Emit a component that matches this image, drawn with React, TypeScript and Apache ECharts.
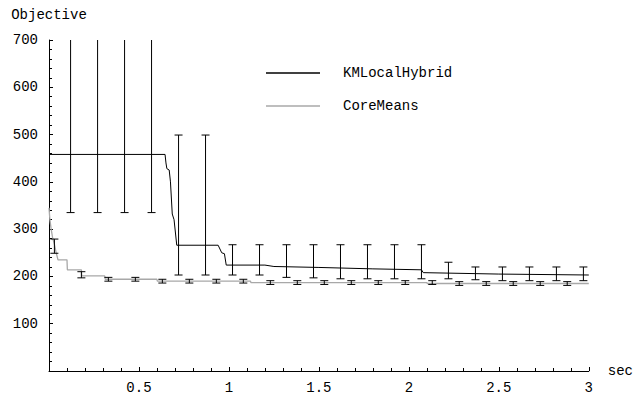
import React, { useEffect, useRef } from "react";
import * as echarts from "echarts";

// KMLocalHybrid objective over time [sec, objective]
const kmLine: number[][] = [
  [0, 458], [0.645, 458], [0.65, 440], [0.655, 428], [0.668, 425], [0.675, 400],
  [0.685, 332], [0.695, 320], [0.71, 266], [0.94, 266], [0.95, 258], [0.96, 250],
  [0.975, 248], [0.985, 224], [1.2, 224], [1.25, 221], [1.5, 219], [1.8, 216],
  [2.07, 214], [2.08, 208], [2.5, 205], [3, 203],
];
// CoreMeans objective over time [sec, objective]
const cmLine: number[][] = [
  [0, 345], [0.005, 320], [0.012, 300], [0.02, 282], [0.03, 268], [0.04, 250],
  [0.05, 235], [0.1, 235], [0.102, 214], [0.18, 214], [0.182, 201], [0.31, 201],
  [0.312, 194], [0.6, 194], [0.602, 190], [1.12, 190], [1.122, 187], [2.1, 187],
  [2.102, 185], [3, 185],
];

// error bars
const kmBarX = [0.12, 0.27, 0.42, 0.57, 0.72, 0.87, 1.02, 1.17, 1.32, 1.47, 1.62, 1.77, 1.92, 2.07, 2.22, 2.37, 2.52, 2.67, 2.82, 2.97];
const kmBarLow = [335, 335, 335, 335, 203, 203, 203, 203, 198, 197, 195, 195, 195, 195, 195, 193, 191, 191, 191, 191];
const kmBarHigh = [760, 760, 760, 760, 499, 499, 267, 267, 267, 267, 267, 267, 267, 267, 230, 220, 220, 220, 220, 220];

const cmBarX = [0.03, 0.18, 0.33, 0.48, 0.63, 0.78, 0.93, 1.08, 1.23, 1.38, 1.53, 1.68, 1.83, 1.98, 2.13, 2.28, 2.43, 2.58, 2.73, 2.88];
const cmBarLow = [249, 197, 190, 190, 186, 186, 186, 186, 183, 183, 183, 183, 183, 183, 183, 181, 181, 181, 181, 181];
const cmBarHigh = [279, 210, 198, 198, 194, 194, 194, 194, 191, 191, 191, 191, 191, 191, 191, 189, 189, 189, 189, 189];

const FONT = "Liberation Mono";

function errorRender(color: string) {
  return (params: any, api: any) => {
    const x = api.value(0);
    const lo = api.coord([x, api.value(1)]);
    const hi = api.coord([x, api.value(2)]);
    const w = 4;
    const style = { stroke: color, lineWidth: 1 };
    return {
      type: "group",
      children: [
        { type: "line", shape: { x1: lo[0], y1: lo[1], x2: hi[0], y2: hi[1] }, style },
        { type: "line", shape: { x1: lo[0] - w, y1: lo[1], x2: lo[0] + w, y2: lo[1] }, style },
        { type: "line", shape: { x1: hi[0] - w, y1: hi[1], x2: hi[0] + w, y2: hi[1] }, style },
      ],
    };
  };
}

export default function App() {
  const ref = useRef<HTMLDivElement>(null);
  useEffect(() => {
    const chart = echarts.init(ref.current!, null, { renderer: "svg" });
    const axisLabel = { color: "#000", fontFamily: FONT, fontSize: 14 };
    chart.setOption({
      animation: false,
      backgroundColor: "#fff",
      grid: { left: 49, right: 46, top: 40, bottom: 21 },
      legend: {
        orient: "vertical",
        left: 266,
        top: 66,
        padding: 0,
        icon: "rect",
        itemWidth: 54,
        itemHeight: 1.3,
        itemGap: 19,
        data: ["KMLocalHybrid", "CoreMeans"],
        textStyle: { color: "#000", fontFamily: FONT, fontSize: 14, padding: [0, 0, 0, 18] },
      },
      xAxis: {
        type: "value",
        min: 0,
        max: 3,
        interval: 0.5,
        name: "sec",
        nameLocation: "end",
        nameGap: 19,
        nameTextStyle: { color: "#000", fontFamily: FONT, fontSize: 14 },
        axisLine: { lineStyle: { color: "#000", width: 1 } },
        axisTick: { inside: true, length: 4, lineStyle: { color: "#000" } },
        minorTick: { show: true, splitNumber: 5, length: 3, lineStyle: { color: "#000" } },
        splitLine: { show: false },
        axisLabel: { ...axisLabel, margin: 10, formatter: (v: number) => (v === 0 ? "" : String(v)) },
      },
      yAxis: {
        type: "value",
        min: 0,
        max: 700,
        interval: 100,
        name: "Objective",
        nameLocation: "end",
        nameGap: 18,
        nameTextStyle: { color: "#000", fontFamily: FONT, fontSize: 14 },
        axisLine: { show: true, lineStyle: { color: "#000", width: 1 } },
        axisTick: { show: true, inside: true, length: 4, lineStyle: { color: "#000" } },
        minorTick: { show: true, splitNumber: 5, length: 3, lineStyle: { color: "#000" } },
        splitLine: { show: false },
        axisLabel: { ...axisLabel, margin: 11, formatter: (v: number) => (v === 0 ? "" : String(v)) },
      },
      series: [
        {
          name: "KMLocalHybrid",
          type: "line",
          data: kmLine,
          symbol: "none",
          lineStyle: { color: "#000", width: 1 },
          itemStyle: { color: "#000" },
          z: 3,
        },
        {
          name: "CoreMeans",
          type: "line",
          data: cmLine,
          symbol: "none",
          lineStyle: { color: "#a8a8a8", width: 1.3 },
          itemStyle: { color: "#a8a8a8" },
          z: 2,
        },
        {
          name: "kmErr",
          type: "custom",
          clip: true,
          renderItem: errorRender("#000"),
          encode: { x: 0, y: [1, 2] },
          data: kmBarX.map((x, i) => [x, kmBarLow[i], kmBarHigh[i]]),
          z: 4,
        },
        {
          name: "cmErr",
          type: "custom",
          clip: true,
          renderItem: errorRender("#000"),
          encode: { x: 0, y: [1, 2] },
          data: cmBarX.map((x, i) => [x, cmBarLow[i], cmBarHigh[i]]),
          z: 4,
        },
      ],
    });
    return () => chart.dispose();
  }, []);
  return (
    <div
      ref={ref}
      style={{ position: "fixed", left: 0, top: 0, width: 636, height: 395, background: "#fff" }}
    />
  );
}
